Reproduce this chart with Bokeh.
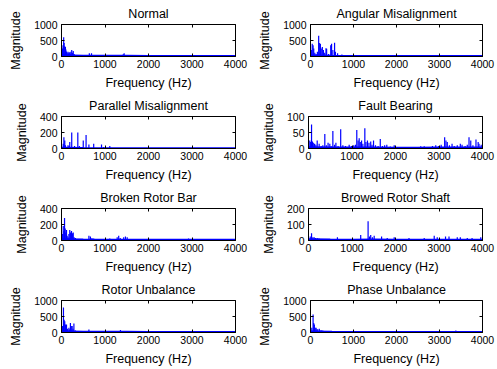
from bokeh.plotting import figure
from bokeh.models import FixedTicker, Range1d, LinearAxis
from bokeh.layouts import column, row
from bokeh.embed import file_html
from bokeh.resources import INLINE

# ---------------- data ----------------
titles = ["Normal", "Angular Misalignment", "Parallel Misalignment", "Fault Bearing",
          "Broken Rotor Bar", "Browed Rotor Shaft", "Rotor Unbalance", "Phase Unbalance"]
y_max = [1000, 1000, 400, 100, 400, 200, 1000, 1000]
y_ticks = [[0, 500, 1000], [0, 500, 1000], [0, 200, 400], [0, 50, 100],
           [0, 200, 400], [0, 100, 200], [0, 500, 1000], [0, 500, 1000]]
x_ticks = [0, 1000, 2000, 3000, 4000]
x_label = "Frequency (Hz)"
y_label = "Magnitude"

normal_freq = [20, 35, 50, 60, 75, 90, 100, 115, 130, 150, 165, 180, 200, 215, 235, 250,
               270, 290, 320, 640, 690, 760, 1380, 1420, 1440, 1470]
normal_mag = [250, 350, 600, 420, 320, 300, 220, 160, 120, 150, 100, 130, 90, 150, 200, 120,
              170, 80, 40, 100, 100, 40, 50, 70, 100, 50]

ang_freq = [20, 40, 60, 75, 100, 130, 160, 190, 205, 230, 250, 275, 300, 330, 360, 375,
            420, 470, 490, 520, 560, 580, 630, 680, 730, 800, 900, 1000, 1100, 2000, 2750]
ang_mag = [200, 400, 350, 250, 120, 80, 150, 650, 420, 400, 250, 300, 200, 120, 260, 240,
           80, 350, 400, 200, 430, 150, 100, 40, 60, 30, 30, 20, 30, 20, 25]

par_freq = [40, 55, 75, 90, 150, 175, 190, 235, 300, 375, 410, 500, 565, 630, 740, 920, 970, 1110]
par_mag = [60, 140, 100, 40, 40, 30, 80, 200, 30, 200, 30, 100, 170, 50, 60, 50, 20, 30]

fb_freq = [30, 50, 70, 90, 110, 140, 170, 200, 245, 290,
           330, 375, 410, 450, 490, 520, 560, 600, 630, 680,
           740, 790, 850, 935, 990, 1040, 1080, 1110, 1140, 1165,
           1190, 1220, 1250, 1295, 1320, 1355, 1390, 1430, 1460, 1495,
           1540, 1600, 1650, 1700, 1750, 1800, 1880, 1970, 2580, 2660,
           2720, 2850, 2925, 2990, 3050, 3130, 3160, 3190, 3240, 3300,
           3350, 3420, 3490, 3530, 3600, 3650, 3690, 3730, 3780, 3850,
           3900, 3920, 3970]
fb_mag = [25, 20, 75, 22, 18, 15, 12, 25, 15, 8,
          10, 45, 10, 18, 15, 8, 55, 12, 18, 8,
          60, 10, 8, 12, 8, 10, 12, 58, 25, 32,
          20, 25, 15, 63, 20, 25, 18, 22, 12, 25,
          10, 8, 30, 8, 10, 12, 6, 10, 7, 7,
          5, 8, 10, 8, 12, 35, 25, 20, 10, 15,
          8, 10, 15, 12, 8, 12, 35, 25, 10, 28,
          20, 15, 12]

brb_freq = [20, 40, 55, 70, 85, 100, 115, 130, 150, 170, 190, 210, 230, 250, 270, 290,
            320, 375, 630, 665, 700, 740, 900, 1110, 1280, 1315, 1350, 1430, 1470, 1510,
            2920, 3880]
brb_mag = [80, 180, 120, 280, 150, 100, 130, 60, 40, 80, 130, 100, 120, 90, 100, 40,
           30, 20, 60, 50, 30, 25, 20, 25, 40, 60, 30, 40, 50, 40,
           25, 15]

brs_freq = [40, 70, 100, 130, 160, 200, 240, 280, 665, 970, 1200, 1370, 1400, 1430, 1470,
            1510, 1680, 1810, 1970, 2310, 2660, 2890, 2960, 3150, 3230, 3420, 3490, 3650,
            3760, 3960]
brs_mag = [25, 45, 20, 20, 15, 15, 12, 10, 20, 10, 35, 120, 25, 35, 20,
           30, 25, 15, 20, 15, 15, 30, 20, 25, 25, 20, 20, 15,
           15, 20]

ru_freq = [20, 45, 60, 75, 90, 115, 140, 170, 190, 205, 225, 245, 265, 285, 320, 630,
           690, 740, 1355, 1510]
ru_mag = [200, 780, 400, 350, 250, 250, 120, 150, 100, 300, 200, 200, 120, 280, 60, 90,
          40, 50, 80, 40]

pu_freq = [30, 60, 75, 90, 110, 130, 150, 170, 205, 245, 285, 650, 1470, 1690, 3150, 3380, 3420]
pu_mag = [150, 560, 300, 250, 150, 150, 100, 100, 120, 80, 60, 30, 30, 25, 25, 60, 40]

floor_freq = [0, 500, 1000, 1500, 2000, 2500, 3000, 3500, 4000]
normal_floor = [40, 25, 20, 20, 15, 15, 15, 15, 15]
ang_floor = [30, 20, 15, 15, 12, 12, 12, 12, 12]
par_floor = [8, 5, 4, 4, 3, 3, 3, 3, 3]
fb_floor = [4, 3, 3, 3, 2, 2, 3, 3, 3]
brb_floor = [15, 12, 10, 10, 8, 8, 8, 8, 8]
brs_floor = [8, 6, 5, 6, 5, 5, 5, 5, 5]
ru_floor = [40, 25, 20, 20, 15, 15, 15, 15, 15]
pu_floor = [30, 20, 15, 15, 12, 12, 12, 12, 12]

series = [(normal_freq, normal_mag, normal_floor), (ang_freq, ang_mag, ang_floor),
          (par_freq, par_mag, par_floor), (fb_freq, fb_mag, fb_floor),
          (brb_freq, brb_mag, brb_floor), (brs_freq, brs_mag, brs_floor),
          (ru_freq, ru_mag, ru_floor), (pu_freq, pu_mag, pu_floor)]

# ---------------- styling ----------------
FONT = "Liberation Sans"
BLUE = "#0000ff"


def style_axis(ax, ticks):
    ax.ticker = FixedTicker(ticks=ticks, minor_ticks=[])
    ax.major_tick_in = 3
    ax.major_tick_out = 0
    ax.axis_line_color = "black"
    ax.major_tick_line_color = "black"
    ax.major_label_text_font = FONT
    ax.major_label_text_font_size = "10.5px"
    ax.major_label_text_color = "black"
    ax.axis_label_text_font = FONT
    ax.axis_label_text_font_size = "12.5px"
    ax.axis_label_text_font_style = "normal"
    ax.axis_label_text_color = "black"


def mirror_axis(ticks):
    ax = LinearAxis(ticker=FixedTicker(ticks=ticks, minor_ticks=[]),
                    major_tick_in=3, major_tick_out=0, axis_line_color=None,
                    major_tick_line_color="black", major_label_standoff=0,
                    major_label_text_font_size="0px",
                    major_label_overrides={t: "" for t in ticks})
    return ax


def make(i):
    col = i % 2
    r = i // 2
    last = r == 3
    freq, mag, floor = series[i]
    p = figure(width=255 if col == 0 else 242, height=93 if last else 92,
               x_range=Range1d(0, 4000), y_range=Range1d(0, y_max[i]),
               output_backend="svg", toolbar_location=None,
               min_border_left=61 if col == 0 else 53,
               min_border_right=20 if col == 0 else 15,
               min_border_top=24, min_border_bottom=37 if last else 36,
               title=titles[i])
    p.title.align = "center"
    p.title.text_font = FONT
    p.title.text_font_size = "12.5px"
    p.title.text_font_style = "normal"
    p.title.text_color = "black"
    p.title.standoff = 8
    p.grid.visible = False
    p.outline_line_color = "black"
    p.outline_line_alpha = 1
    p.background_fill_color = "white"
    p.border_fill_color = "white"

    p.segment(x0=freq, y0=[0] * len(freq), x1=freq, y1=mag, line_color=BLUE, line_width=1.2)
    p.line(floor_freq, floor, line_color=BLUE, line_width=2)

    xb = p.below[0]
    yl = p.left[0]
    style_axis(xb, x_ticks)
    style_axis(yl, y_ticks[i])
    xb.axis_label = x_label
    yl.axis_label = y_label
    xb.major_label_standoff = 3
    xb.axis_label_standoff = 5
    yl.major_label_standoff = 4
    yl.axis_label_standoff = 8

    p.add_layout(mirror_axis(x_ticks), "above")
    p.add_layout(mirror_axis(y_ticks[i]), "right")
    return p


plots = [make(i) for i in range(8)]
layout = column(*[row(plots[2 * k], plots[2 * k + 1]) for k in range(4)])

open("out.html", "w").write(file_html(layout, INLINE))
